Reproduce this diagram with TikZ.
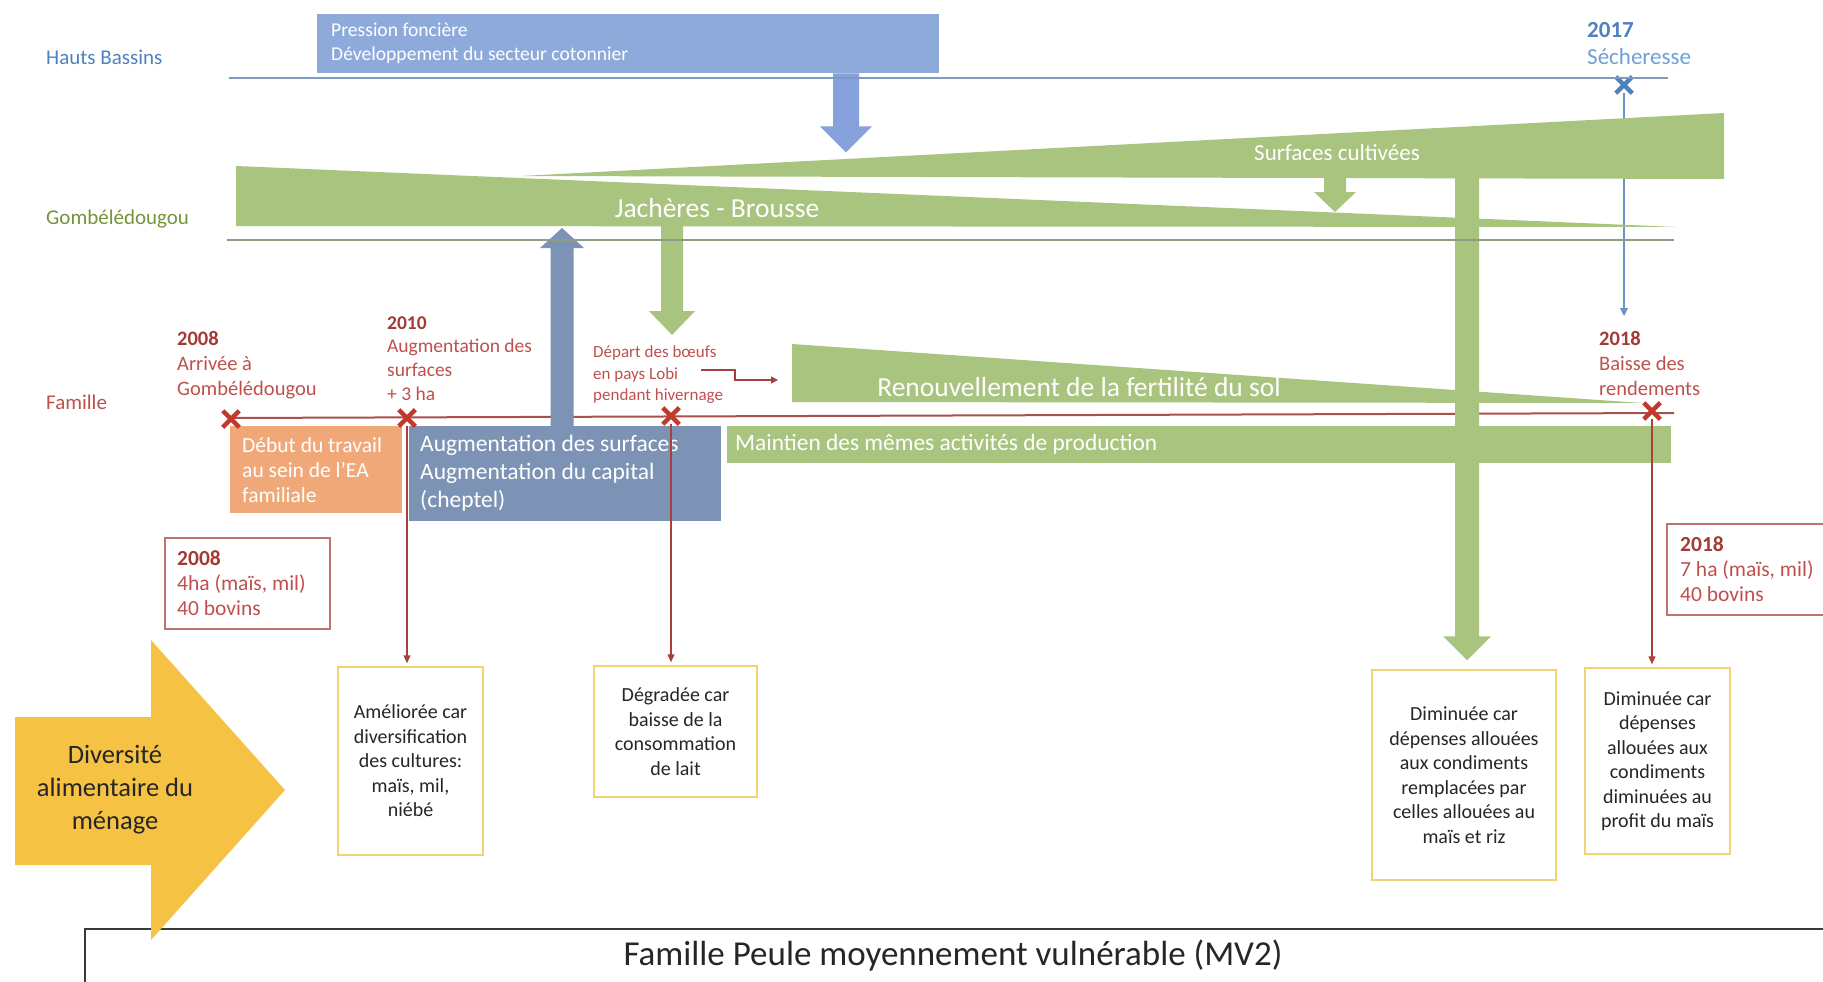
\documentclass[tikz,border=0pt]{standalone}
\usepackage{fontspec}
\setmainfont{Carlito}
\usetikzlibrary{arrows.meta,calc,shapes.misc}
\definecolor{hbblue}{HTML}{4F81BD}
\definecolor{boxblue}{HTML}{8EAADB}
\definecolor{lblue}{HTML}{6FA0D8}
\definecolor{vgreen}{HTML}{A9C47F}
\definecolor{ggreen}{HTML}{77933C}
\definecolor{gline}{HTML}{8E9C86}
\definecolor{bline}{HTML}{7F9ABD}
\definecolor{fred}{HTML}{C0504D}
\definecolor{yred}{HTML}{A33A36}
\definecolor{dred}{HTML}{A8403C}
\definecolor{xred}{HTML}{C0392B}
\definecolor{lred}{HTML}{A94F4C}
\definecolor{orangebox}{HTML}{F1A878}
\definecolor{slate}{HTML}{7C93B5}
\definecolor{goldb}{HTML}{F0D472}
\definecolor{gold}{HTML}{F6C244}
\definecolor{txt}{HTML}{262626}
\definecolor{rbox}{HTML}{C07472}
\definecolor{dkframe}{HTML}{3A3A3A}
\newcommand\blockarr[6]{%
  \fill[#1] ($(#2)+(-#4,0)$) -- ($(#3)+(-#4,#6)$) -- ($(#3)+(-#5,#6)$) -- (#3)
    -- ($(#3)+(#5,#6)$) -- ($(#3)+(#4,#6)$) -- ($(#2)+(#4,0)$) -- cycle;}
\begin{document}
\begin{tikzpicture}[x=1pt,y=-1pt,
  lbl/.style={anchor=west,inner sep=0pt,align=left},
  ctr/.style={inner sep=0pt,align=center},
  fs/.style={font=\fontsize{#1}{#1}\selectfont},
  rectbox/.style={anchor=north west,inner sep=0pt,draw=none},
  xmark/.style={cross out,draw=xred,line width=4.5pt,minimum size=12pt,inner sep=0pt},
  ybox/.style={draw=goldb,line width=1.5pt,fill=white,align=center,text=txt,inner sep=0pt,
     font=\fontsize{20}{24.5}\selectfont},
  redarr/.style={draw=dred,line width=1.3pt,shorten >=3pt,-{Triangle[width=7pt,length=8pt]}},
  rlabel/.style={lbl,text=fred,font=\fontsize{20.5}{25}\selectfont},
  slabel/.style={lbl,text=fred,font=\fontsize{21.5}{25}\selectfont}]
\useasboundingbox (0,0) rectangle (1823,982);
\fill[white] (0,0) rectangle (1823,982);

% ---------- bottom result boxes (defined early for references)
\node[ybox,minimum width=145pt,minimum height=188pt] (b1) at (410.5,761) {Améliorée car\\diversification\\des cultures:\\maïs, mil,\\niébé};
\node[ybox,minimum width=163pt,minimum height=131pt] (b2) at (675.5,731.5) {Dégradée car\\baisse de la\\consommation\\de lait};
\node[ybox,minimum width=184pt,minimum height=210pt] (b3) at (1464,775) {Diminuée car\\dépenses allouées\\aux condiments\\remplacées par\\celles allouées au\\maïs et riz};
\node[ybox,minimum width=145pt,minimum height=186pt] (b4) at (1657.5,761) {Diminuée car\\dépenses\\allouées aux\\condiments\\diminuées au\\profit du maïs};

% ---------- Hauts Bassins
\node[lbl,text=hbblue,fs=21] (hb) at (46,57) {Hauts Bassins};
\node[xmark,draw=hbblue] (c17) at (1624,85) {};
\coordinate (c17end) at (1624,316);
\draw[hbblue!85,line width=1.2pt,-{Triangle[width=8pt,length=8pt]}] (c17) -- (c17end);
\node[rectbox,fill=boxblue,minimum width=622pt,minimum height=59pt] (pf) at (317,14) {};
\node[lbl,text=white,font=\fontsize{19.6}{24}\selectfont] (pft) at ($(pf.west)+(14,0)$) {Pression foncière\\Développement du secteur cotonnier};
\node[lbl,text=hbblue,font=\fontsize{23}{27}\selectfont] (y17) at (1587,43.5) {\textbf{2017}\\\textcolor{lblue}{Sécheresse}};
\coordinate (pfA) at ($(pf.south west)+(529,0)$);
\coordinate (pfB) at ($(pfA)+(0,79)$);
\blockarr{boxblue!95!blue}{pfA}{pfB}{13}{26}{-26}

% ---------- Gombeledougou wedges
\fill[vgreen] (236,166) -- (236,226) -- (1676,227) -- cycle;
\fill[vgreen] (521,176) -- (1724,113) -- (1724,179) -- cycle;
\node[ctr,text=white,fs=23] (sct) at (1337,153) {Surfaces cultivées};
\node[ctr,text=white,fs=27.5] (jbt) at (717,208) {Jachères - Brousse};
\node[lbl,text=ggreen,fs=21] (gb) at (46,219) {Gombélédougou};
\coordinate (scA) at (1335,178);
\coordinate (scB) at (1335,212);
\blockarr{vgreen}{scA}{scB}{11}{21}{-20}
\coordinate (jbA) at (672,226);
\coordinate (jbB) at (672,335);
\blockarr{vgreen}{jbA}{jbB}{11}{23}{-24}

% ---------- Famille row
\node[lbl,text=fred,fs=21] (fam) at (46,402) {Famille};
\draw[lred,line width=2pt] (229,418) -- (1674,413);
\fill[vgreen] (792,344) -- (792,402) -- (1642,403) -- cycle;
\node[ctr,text=white,fs=27.5] (rent) at (1079,387) {Renouvellement de la fertilité du sol};

\node[rectbox,fill=orangebox,minimum width=172pt,minimum height=87pt] (ea) at (230,426) {};
\node[lbl,text=white,font=\fontsize{21.5}{25}\selectfont] (eat) at ($(ea.west)+(12,0)$) {Début du travail\\au sein de l’EA\\familiale};
\node[rectbox,fill=slate,minimum width=312pt,minimum height=95pt] (sl) at (409,426) {};
\node[lbl,text=white,font=\fontsize{23.5}{28}\selectfont] (slt) at ($(sl.west)+(11,0)$) {Augmentation des surfaces\\Augmentation du capital\\(cheptel)};
\node[rectbox,fill=vgreen,minimum width=944pt,minimum height=37pt] (mt) at (727,426) {};
\node[lbl,text=white,fs=23.4] (mtt) at ($(mt.west)+(8,0)$) {Maintien des mêmes activités de production};

% slate up arrow
\coordinate (slA) at ($(sl.north west)+(153,0)$);
\coordinate (slB) at ($(slA)+(0,-198)$);
\blockarr{slate}{slA}{slB}{11.5}{22}{20}
% big green arrow
\coordinate (sc3A) at (1467,170);
\coordinate (sc3B) at ($(sc3A |- b3.north)+(0,-9)$);
\blockarr{vgreen}{sc3A}{sc3B}{12}{24}{-24}

% lines over arrows
\draw[bline,line width=1.5pt] (229,78) -- (1668,78);
\draw[gline,line width=1.6pt] (227,240) -- (1674,240);

% crosses
\node[xmark] (c08) at (231,419) {};
\node[xmark] (c10) at (407,418) {};
\node[xmark] (c12) at (671,416) {};
\node[xmark] (c18) at (1652,411) {};

% labels
\node[rlabel] (l08) at (177,365) {\textcolor{yred}{\textbf{2008}}\\Arrivée à\\Gombélédougou};
\node[lbl,text=fred,font=\fontsize{19.5}{23.7}\selectfont] (l10) at (387,358.5) {\textcolor{yred}{\textbf{2010}}\\Augmentation des\\surfaces\\+ 3 ha};
\node[lbl,text=fred,font=\fontsize{17}{21.5}\selectfont] (dep) at (593,375) {Départ des bœufs\\en pays Lobi\\pendant hivernage};
\node[rlabel] (l18) at (1599,363) {\textcolor{yred}{\textbf{2018}}\\Baisse des\\rendements};
\coordinate (depA) at (701,370);
\coordinate (renL) at (778,380);
\draw[dred,line width=1.3pt,-{Triangle[width=7pt,length=7pt]}] (depA) -- ++(34,0) -- ++(0,10) -- (renL);

% red arrows to result boxes
\draw[redarr] (c10) -- (c10 |- b1.north);
\draw[redarr] (c12) -- (c12 |- b2.north);
\draw[redarr] (c18) -- (c18 |- b4.north);

% state boxes
\node[rectbox,draw=rbox,line width=1.5pt,fill=white,minimum width=165pt,minimum height=91pt] (s08) at (164,537) {};
\node[slabel] (s08t) at ($(s08.west)+(13,0)$) {\textcolor{yred}{\textbf{2008}}\\4ha (maïs, mil)\\40 bovins};
\node[rectbox,draw=rbox,line width=1.5pt,fill=white,minimum width=175pt,minimum height=91pt] (s18) at (1666,523) {};
\node[slabel] (s18t) at ($(s18.west)+(14,0)$) {\textcolor{yred}{\textbf{2018}}\\7 ha (maïs, mil)\\40 bovins};

% bottom frame
\node[rectbox,draw=dkframe,line width=2pt,minimum width=1760pt,minimum height=80pt] (fr) at (84,928) {};
\node[ctr,text=txt,fs=35] (frt) at (953,956) {Famille Peule moyennement vulnérable (MV2)};

% yellow arrow
\fill[gold] (15,717) -- (151,717) -- (151,640) -- (285,790) -- (151,940) -- (151,865) -- (15,865) -- cycle;
\node[ctr,text=txt,font=\fontsize{26.5}{33}\selectfont] (div) at (115,790) {Diversité\\alimentaire du\\ménage};
\end{tikzpicture}
\end{document}
